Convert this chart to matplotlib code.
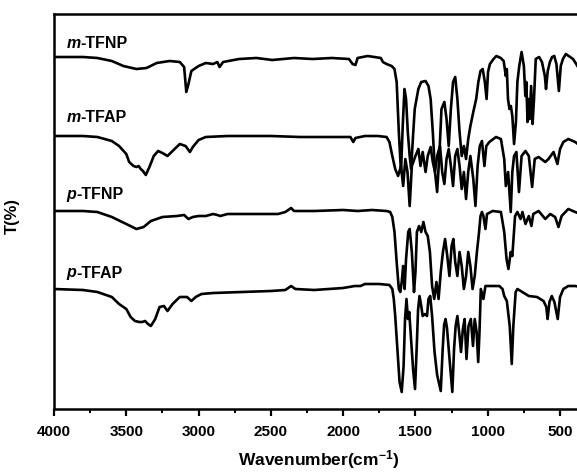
import matplotlib
matplotlib.use("Agg")
import matplotlib.pyplot as plt
from matplotlib.ticker import MultipleLocator

plt.rcParams['font.family'] = ['Liberation Sans', 'DejaVu Sans']
plt.rcParams['font.weight'] = 'bold'
plt.rcParams['mathtext.fontset'] = 'custom'
plt.rcParams['mathtext.rm'] = 'Liberation Sans:bold'
plt.rcParams['mathtext.default'] = 'rm'

# ---------------- data (wavenumber cm^-1, transmittance in arbitrary stacked units) -------------
mtfnp_w = [4000, 3800, 3700, 3600, 3520, 3430, 3360, 3290, 3200, 3130, 3100, 3085, 3070, 3050, 3000,
           2950, 2900, 2870, 2855, 2830, 2720, 2600, 2490, 2340, 2210, 2080, 1960, 1935, 1915, 1900,
           1830, 1740, 1725, 1700, 1665, 1645, 1630, 1615, 1600, 1588, 1576, 1565, 1553, 1540, 1530,
           1518, 1505, 1480, 1460, 1430, 1410, 1395, 1380, 1365, 1350, 1335, 1320, 1300, 1285, 1270,
           1255, 1240, 1225, 1210, 1195, 1180, 1165, 1150, 1135, 1120, 1100, 1080, 1065, 1050, 1035,
           1020, 1008, 998, 985, 960, 940, 910, 890, 875, 868, 860, 850, 840, 830, 818, 805, 795, 782,
           766, 750, 740, 733, 725, 717, 710, 700, 690, 680, 668, 645, 625, 605, 597, 585, 570, 555,
           540, 525, 508, 495, 480, 460, 440, 410, 388, 360]
mtfnp_t = [353, 353, 352, 349, 344, 341, 342, 347, 349, 348, 343, 318, 326, 339, 344,
           347, 346, 348, 343, 348, 351, 352, 350, 352, 351, 352, 351, 346, 345, 352,
           354, 352, 348, 346, 344, 341, 328, 278, 238, 284, 321, 311, 278, 254, 241,
           271, 301, 321, 328, 329, 324, 311, 278, 238, 218, 254, 301, 308, 291, 264,
           301, 328, 333, 311, 278, 254, 264, 251, 271, 284, 298, 311, 328, 339, 341,
           328, 311, 338, 346, 351, 354, 352, 349, 334, 341, 311, 301, 304, 294, 266, 288, 328, 344,
           358, 344, 314, 328, 288, 311, 291, 324, 286, 311, 351, 353, 348, 334, 321, 339, 348, 353,
           354, 346, 319, 344, 351, 356, 354, 351, 346, 339]

mtfap_w = [4000, 3800, 3700, 3600, 3550, 3500, 3480, 3450, 3430, 3415, 3400, 3385, 3365, 3340, 3310,
           3280, 3250, 3215, 3180, 3130, 3090, 3060, 3040, 3000, 2950, 2800, 2500, 2300, 2000, 1950,
           1930, 1915, 1850, 1760, 1700, 1680, 1660, 1640, 1620, 1600, 1585, 1570, 1555, 1540, 1525,
           1500, 1480, 1465, 1450, 1430, 1415, 1395, 1380, 1365, 1350, 1330, 1315, 1300, 1285, 1270,
           1255, 1240, 1225, 1210, 1195, 1180, 1165, 1150, 1135, 1120, 1100, 1085, 1070, 1055, 1040,
           1023, 1010, 989, 943, 909, 886, 875, 859, 841, 830, 818, 802, 784, 766, 739, 716, 693, 675,
           648, 602, 580, 545, 518, 500, 477, 443, 395, 360]
mtfap_t = [274, 274, 273, 269, 264, 256, 248, 244, 243, 244, 241, 239, 235, 243, 254,
           259, 257, 254, 259, 266, 264, 258, 263, 270, 273, 274, 274, 273, 273, 273,
           268, 272, 274, 274, 273, 268, 254, 241, 234, 244, 224, 251, 238, 204, 244,
           254, 261, 244, 258, 238, 254, 263, 248, 238, 254, 264, 238, 226, 251, 261,
           244, 224, 254, 261, 244, 221, 238, 211, 238, 254, 231, 204, 244, 264, 269,
           244, 264, 268, 273, 271, 251, 224, 238, 198, 238, 254, 258, 218, 254, 259, 254, 223, 251,
           253, 248, 251, 258, 246, 261, 268, 271, 268, 264]

ptfnp_w = [4000, 3800, 3700, 3600, 3500, 3430, 3380, 3330, 3250, 3150, 3100, 3070, 3040, 3000, 2950,
           2900, 2870, 2850, 2800, 2600, 2450, 2400, 2360, 2340, 2200, 2000, 1900, 1800, 1700, 1675,
           1660, 1645, 1630, 1615, 1605, 1595, 1585, 1575, 1565, 1550, 1540, 1525, 1510, 1500, 1490,
           1475, 1460, 1445, 1430, 1415, 1400, 1385, 1370, 1355, 1340, 1325, 1310, 1295, 1280, 1265,
           1250, 1238, 1225, 1210, 1195, 1180, 1165, 1150, 1135, 1120, 1105, 1090, 1075, 1060, 1050,
           1040, 1030, 1016, 1005, 966, 909, 886, 870, 857, 841, 830, 811, 795, 773, 760, 739, 716,
           698, 685, 648, 602, 568, 534, 511, 489, 443, 395, 360]
ptfnp_t = [199, 199, 198, 193, 186, 181, 183, 189, 193, 194, 195, 191, 193, 194, 194,
           196, 195, 194, 196, 196, 196, 198, 202, 199, 199, 200, 199, 200, 199, 198,
           193, 178, 148, 121, 118, 128, 144, 121, 151, 178, 181, 158, 118, 138, 178,
           184, 178, 188, 178, 174, 158, 124, 111, 128, 111, 138, 158, 171, 154, 134,
           164, 171, 148, 134, 158, 144, 121, 134, 158, 144, 121, 134, 158, 178, 194,
           198, 194, 181, 196, 199, 198, 178, 151, 141, 158, 154, 194, 198, 191, 198, 186, 194,
           184, 196, 199, 191, 196, 193, 183, 194, 201, 198, 196]

ptfap_w = [4000, 3800, 3700, 3600, 3550, 3500, 3470, 3440, 3410, 3390, 3370, 3350, 3330, 3300, 3270,
           3240, 3215, 3180, 3130, 3080, 3050, 3020, 2980, 2900, 2700, 2500, 2400, 2360, 2330, 2200,
           2000, 1920, 1880, 1850, 1750, 1680, 1660, 1650, 1640, 1625, 1610, 1595, 1582, 1572, 1562,
           1552, 1543, 1530, 1516, 1503, 1492, 1482, 1472, 1460, 1450, 1435, 1420, 1410, 1398, 1385,
           1368, 1350, 1325, 1312, 1302, 1292, 1282, 1270, 1258, 1245, 1233, 1222, 1210, 1198, 1185,
           1172, 1160, 1147, 1133, 1117, 1102, 1090, 1077, 1066, 1057, 1048, 1030, 1016, 1000, 920,
           898, 886, 868, 848, 834, 823, 807, 795, 761, 716, 659, 614, 595, 586, 573, 557, 539, 516,
           500, 477, 443, 395, 360]
ptfap_t = [121, 120, 118, 113, 106, 101, 93, 89, 88, 88, 89, 86, 84, 91, 103,
           104, 99, 106, 113, 113, 109, 113, 116, 117, 118, 119, 120, 124, 121, 120,
           122, 124, 124, 126, 126, 125, 121, 111, 94, 61, 28, 18, 44, 91, 111,
           91, 98, 70, 40, 21, 60, 100, 114, 104, 94, 96, 94, 111, 114, 94,
           58, 35, 19, 60, 85, 91, 82, 61, 40, 18, 61, 84, 94, 78, 58,
           81, 91, 51, 84, 91, 64, 91, 78, 48, 78, 121, 111, 124, 124, 124,
           121, 114, 109, 84, 46, 84, 118, 121, 118, 114, 113, 109, 103, 91, 108, 114, 108, 91,
           113, 121, 124, 124, 123]

series = [
    (mtfnp_w, mtfnp_t, 'm', '-TFNP', 3915, 368),
    (mtfap_w, mtfap_t, 'm', '-TFAP', 3915, 294),
    (ptfnp_w, ptfnp_t, 'p', '-TFNP', 3915, 216),
    (ptfap_w, ptfap_t, 'p', '-TFAP', 3915, 138),
]
xticks = [4000, 3500, 3000, 2500, 2000, 1500, 1000, 500]

# ---------------- figure ----------------
fig = plt.figure(figsize=(5.77, 4.77), dpi=100)
ax = fig.add_axes([54 / 577, 67 / 477, 527 / 577, 395 / 477])

for w, t, pre, rest, lx, ly in series:
    ax.plot(w, t, color='black', lw=1.9, solid_joinstyle='round')
    tt = ax.text(lx, ly, pre, style='italic', fontweight='bold', fontsize=11.5,
                 ha='left', va='center')
    ax.annotate(rest, xy=(1, 0), xycoords=tt, ha='left', va='bottom',
                fontweight='bold', fontsize=11.5)

ax.set_xlim(4000, 355)
ax.set_ylim(1, 396)
ax.set_xticks(xticks)
ax.set_xticklabels([str(v) for v in xticks])
ax.xaxis.set_minor_locator(MultipleLocator(250))
ax.tick_params(axis='x', which='major', direction='out', length=5, width=1.6,
               labelsize=11, pad=6)
ax.tick_params(axis='x', which='minor', direction='out', length=3, width=1.4)
ax.set_yticks([])
for s in ax.spines.values():
    s.set_linewidth(1.8)
for lab in ax.get_xticklabels():
    lab.set_fontweight('bold')

fig.text(319 / 577, 1 - 460 / 477, r'Wavenumber(cm$^{-1}$)', ha='center', va='center',
         fontsize=12.5, fontweight='bold')
fig.text(12 / 577, 1 - 216 / 477, 'T(%)', rotation=90, ha='center', va='center',
         fontsize=12, fontweight='bold')

fig.savefig('out.png', dpi=100)
